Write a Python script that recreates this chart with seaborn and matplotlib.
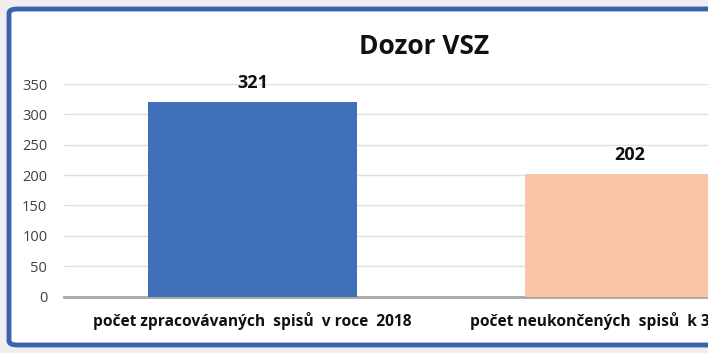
import matplotlib
matplotlib.use("Agg")
import matplotlib.pyplot as plt
import seaborn as sns
import pandas as pd
from matplotlib.patches import FancyBboxPatch

categories = ["počet zpracovávaných  spisů  v roce  2018",
              "počet neukončených  spisů  k 31. 12. 2018"]
values = [321, 202]
colors = ["#4070B8", "#F8C5A6"]
yticks = [0, 50, 100, 150, 200, 250, 300, 350]

sns.set_theme(style="white")
plt.rcParams['font.family'] = ['Open Sans', 'DejaVu Sans']

df = pd.DataFrame({"cat": categories, "val": values})

fig = plt.figure(figsize=(7.08, 3.53), dpi=100)
fig.patch.set_facecolor("#eeeeee")

# blue rounded frame (chart area extends beyond the right edge)
frame = FancyBboxPatch((9/708, 1-345/353), 1.2, (345-9)/353,
                       boxstyle="round,pad=0,rounding_size=0.012",
                       transform=fig.transFigure, facecolor="white",
                       edgecolor="#3A62AE", linewidth=3.5, zorder=-5)
fig.patches.append(frame)

ax = fig.add_axes([64/708, 1-296.5/353, 754/708, 212.5/353])
ax.set_zorder(2)
ax.set_facecolor("none")
sns.barplot(data=df, x="cat", y="val", hue="cat", palette=colors,
            width=0.552, legend=False, ax=ax, saturation=1, zorder=3,
            linewidth=0)

ax.set_xlim(-0.5, 1.5)
ax.set_ylim(0, 350)
ax.set_yticks(yticks)
ax.set_yticklabels([str(t) for t in yticks], fontsize=10.5, color="#404040")
ax.grid(axis="y", color="#e0e0e0", linewidth=1, zorder=0)
ax.set_axisbelow(True)
for s in ["top", "right", "left"]:
    ax.spines[s].set_visible(False)
ax.spines["bottom"].set_color("#a6a6a6")
ax.spines["bottom"].set_linewidth(2)
ax.tick_params(axis="y", length=0, pad=12)
ax.tick_params(axis="x", length=0, pad=11)
ax.set_xticks(range(len(categories)))
ax.set_xticklabels(categories, fontsize=11.2, fontweight="bold", color="#111111")
ax.set_xlabel("")
ax.set_ylabel("")

for i, v in enumerate(values):
    ax.annotate(str(v), (i, v), xytext=(0, 7), textcoords="offset points",
                ha="center", va="bottom", fontsize=13, fontweight="bold",
                color="#111111")

fig.text(424/708, 1-46/353, "Dozor VSZ", ha="center", va="center",
         fontsize=19, fontweight="bold", color="#111111")

fig.savefig("out.png", dpi=100, facecolor=fig.get_facecolor())
